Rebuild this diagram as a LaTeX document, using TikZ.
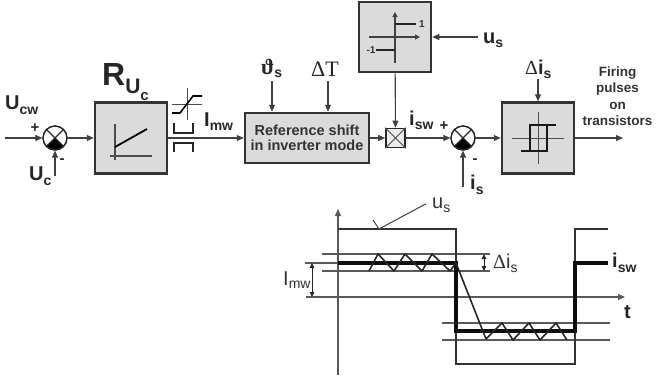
\documentclass[tikz,border=0pt]{standalone}
\usepackage{fontspec}
\setmainfont{Liberation Sans}
\newfontfamily\serifdelta{Liberation Serif}
\usetikzlibrary{arrows.meta,calc}
\newcommand{\fs}[1]{\fontsize{#1}{#1}\selectfont}
\newcommand{\sbx}[2]{\raisebox{-#1pt}{\fs{14}#2}}
\tikzset{
  x=1pt,y=-1pt,
  tip/.style={-{Triangle[length=7pt,width=6pt]}},
  tiptwo/.style={{Triangle[length=5pt,width=4.5pt]}-{Triangle[length=5pt,width=4.5pt]}},
  wire/.style={draw=black!75,line width=1.1pt,tip},
  blockbox/.style={draw=black!80,line width=2.5pt,fill=black!14,inner sep=0pt,minimum width=#1,align=center},
  sumj/.style={circle,draw=black!85,line width=1.2pt,fill=white,minimum size=24pt,inner sep=0pt},
  lab/.style={font=\bfseries\fs{20},text=black!85,inner sep=0pt},
  reglab/.style={font=\fs{20},text=black!80,inner sep=0pt},
  sgn/.style={font=\bfseries\fs{15},text=black!85,inner sep=0pt},
  thin line/.style={draw=black!65,line width=1.1pt},
  gline/.style={draw=black!85,line width=1.2pt},
  thick curve/.style={draw=black!95,line width=3.2pt,line join=miter},
  rect curve/.style={draw=black!80,line width=1.5pt},
}
\newcommand{\sumfill}[1]{%
  \fill[black] (#1.center) -- ($(#1.center)+(-9,8)$) .. controls ($(#1.center)+(-5,12.5)$) and ($(#1.center)+(5,12.5)$) .. ($(#1.center)+(9,8)$) -- cycle;
  \draw[black!85,line width=1.1pt] ($(#1.center)+(-8.5,-8.5)$) -- ($(#1.center)+(8.5,8.5)$) ($(#1.center)+(8.5,-8.5)$) -- ($(#1.center)+(-8.5,8.5)$);}
\begin{document}
\begin{tikzpicture}
\useasboundingbox (0,0) rectangle (657,381);
% blocks
\node[blockbox=72pt,minimum height=71pt] (ru) at (131,138) {};
\node[blockbox=124pt,minimum height=50pt,font=\bfseries\fs{14.5},text=black!80] (ref) at (307,138) {Reference shift\\[1pt]in inverter mode};
\node[blockbox=72pt,minimum height=70pt] (sign) at (395,37) {};
\node[blockbox=72pt,minimum height=71pt] (hyst) at (538,138) {};
\node[draw=black!85,line width=1.6pt,fill=black!8,minimum size=19pt,inner sep=0pt] (mult) at (395.5,138) {};
\draw[black!70,line width=0.9pt] (mult.north west) -- (mult.south east) (mult.north east) -- (mult.south west);
% summing junctions
\node[sumj] (s1) at (55,138) {};
\node[sumj] (s2) at (463,138) {};
\sumfill{s1}
\sumfill{s2}
\node[sumj,fill=none] at (s1) {};
\node[sumj,fill=none] at (s2) {};
% free ends
\coordinate (uin) at (5,138);
\coordinate (ucin) at (55,176);
\coordinate (thin) at (272,81);
\coordinate (dtin) at (328,81);
\coordinate (usin) at (478,37);
\coordinate (isin) at (463,187);
\coordinate (diin) at (538,79);
\coordinate (out) at (623,138);
% connectors
\draw[wire] (uin) -- (s1);
\draw[wire] (ucin) -- (s1);
\draw[wire] (s1) -- (ru);
\draw[wire] (ru) -- (ref);
\draw[wire] (thin) -- (thin |- ref.north);
\draw[wire] (dtin) -- (dtin |- ref.north);
\draw[wire] (ref) -- (mult);
\draw[wire] (sign) -- (mult);
\draw[wire] (usin) -- (sign);
\draw[wire] (mult) -- (s2);
\draw[wire] (isin) -- (s2);
\draw[wire] (s2) -- (hyst);
\draw[wire] (diin) -- (hyst);
\draw[wire] (hyst) -- (out);
% RU graph
\draw[gline,draw=black!70] (115,124) -- (115,160) (110,156) -- (152,156);
\draw[black,line width=1.8pt] (115,147) -- (147,129);
% limiter symbols
\draw[black!70,line width=1pt] (187,88) -- (187,120) (172,104) -- (202,104);
\draw[black,line width=1.6pt] (172,113) -- (180,113) -- (193,96) -- (202,96);
\draw[black!85,line width=1.5pt] (174,123) -- (174,133) -- (193,133) -- (193,123);
\draw[black!85,line width=1.5pt] (174,152) -- (174,143) -- (193,143) -- (193,152);
% sign graph
\draw[black!75,line width=1.1pt,-{Triangle[length=5pt,width=5pt]}] (395,63) -- (395,12);
\draw[black!75,line width=1.1pt,-{Triangle[length=5pt,width=5pt]}] (369,37) -- (420,37);
\draw[black!85,line width=1.7pt] (395,24) -- (416,24) (376,50) -- (395,50);
\node[font=\bfseries\fs{10},text=black!80,inner sep=0pt] (one) at (422,24) {1};
\node[font=\bfseries\fs{10},text=black!80,inner sep=0pt] (mone) at (371,50) {-1};
% hysteresis graph
\draw[black!70,line width=1pt] (538,112) -- (538,164) (512,138) -- (564,138);
\draw[black!90,line width=1.5pt] (521,151) -- (530,151) -- (530,125) -- (556,125) (530,151) -- (547,151) -- (547,125);
% labels
\node[lab,anchor=base west] (ucw) at (5,109) {U\sbx{5}{cw}};
\node[lab,anchor=base west] (uc) at (29,180) {U\sbx{5}{c}};
\node[sgn] (p1) at (35,128) {+};
\node[sgn] (m1) at (62,161) {-};
\node[font=\bfseries\fs{32},text=black!85,inner sep=0pt,anchor=base west] (r) at (102,85) {R\raisebox{-8pt}{\fs{21}U\raisebox{-7pt}{\fs{15}c}}};
\node[lab,anchor=base west] (imw) at (204,126) {I\sbx{4}{mw}};
\node[font=\serifdelta\bfseries\fs{22},text=black!85,inner sep=0pt,anchor=base west] (theta) at (261,74) {ϑ{\fontspec{Liberation Sans}\bfseries\sbx{3}{s}}};
\node[font=\serifdelta\fs{22},text=black!85,inner sep=0pt] (dt) at (325,69.5) {ΔT};
\node[lab,anchor=base west] (isw) at (409,125) {i\sbx{4}{sw}};
\node[sgn] (p2) at (444,126) {+};
\node[lab,anchor=base west] (us) at (483,43) {u\sbx{4}{s}};
\node[sgn] (m2) at (475,161) {-};
\node[lab,anchor=base west] (is) at (470,189) {i\sbx{5}{s}};
\node[lab,anchor=base west] (di) at (525,74) {{\serifdelta\mdseries Δ}i\sbx{4}{s}};
\node[font=\bfseries\fs{13.5},text=black!80,align=center,inner sep=0pt] (fire) at (617.5,96) {Firing\\[3pt]pulses\\[3pt]on\\[3pt]transistors};
% lower chart: axes
\coordinate (ay0) at (338,375);
\coordinate (ay1) at (338,209);
\coordinate (at0) at (306,297);
\coordinate (at1) at (625,297);
\draw[thin line,-{Triangle[length=7pt,width=6pt]}] (ay0) -- (ay1);
\draw[thin line,-{Triangle[length=7pt,width=6pt]}] (at0) -- (at1);
% band lines
\draw[thin line] (322,254) -- (490,254) (322,271) -- (490,271) (305,263) -- (338,263);
\draw[thin line] (442,323) -- (610,323) (442,340) -- (610,340);
% u_s
\draw[rect curve] (338,229) -- (456,229) -- (456,364) -- (575,364) -- (575,229) -- (608,229);
% i_sw reference
\draw[thick curve] (338,263) -- (456,263) -- (456,331) -- (575,331) -- (575,263) -- (608,263);
% ripple
\draw[black!85,line width=1.6pt,line join=round] (369,271) -- (378,254) -- (394,271) -- (405,254) -- (422,271) -- (432,254) -- (450,271) -- (456,263) -- (486,339) -- (502,323) -- (513,340) -- (529,323) -- (540,340) -- (556,323) -- (567,340);
% dimension arrows
\draw[black!85,line width=1pt,tiptwo] (484,254) -- (484,271);
\draw[black!85,line width=1pt,tiptwo] (312,263) -- (312,297);
% chart labels
\node[reglab,anchor=base west] (imw2) at (283,285) {I\sbx{3.5}{mw}};
\node[reglab,anchor=base west] (di2) at (493,268) {{\serifdelta Δ}i\sbx{4}{s}};
\node[reglab,anchor=base west] (us2) at (432,208) {u\sbx{4}{s}};
\node[lab,anchor=base west] (isw2) at (612,267) {i\sbx{5}{sw}};
\node[lab,anchor=base west] (tt) at (624,318) {t};
% leader
\coordinate (ld) at (379,229);
\draw[black!70,line width=1.1pt] (us2.west) ++(-6,-1) -- (ld) -- (373,220);
\end{tikzpicture}
\end{document}
